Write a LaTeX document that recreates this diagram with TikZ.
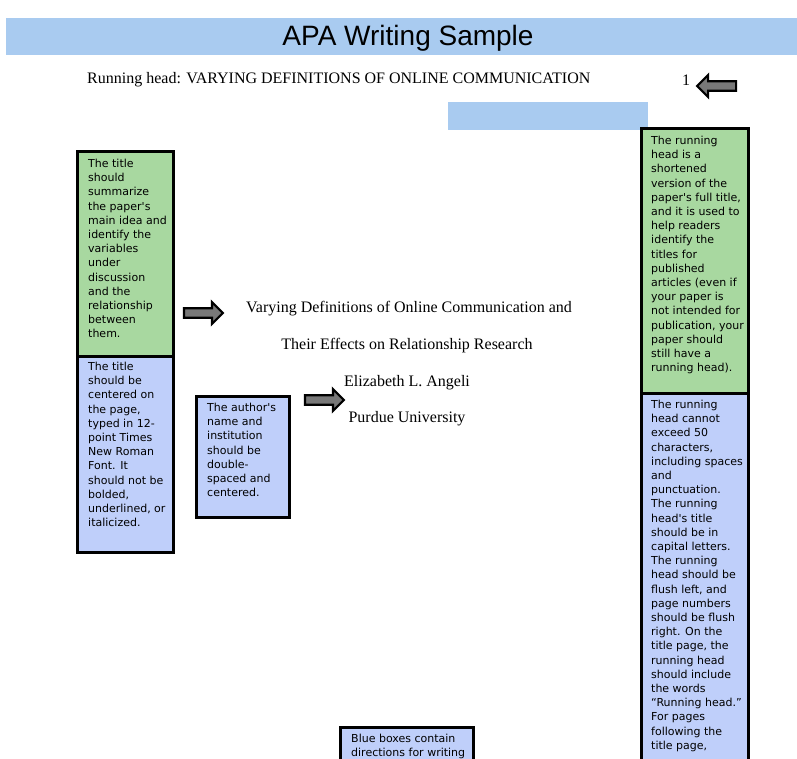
\documentclass[tikz,border=0pt]{standalone}
\usepackage{fontspec}
\setmainfont{Liberation Serif}
\newfontfamily\notefont{DejaVu Sans}
\newfontfamily\headfont{Liberation Sans}
\usetikzlibrary{shapes.arrows}
\definecolor{bannerblue}{RGB}{169,203,240}
\definecolor{notegreen}{RGB}{168,216,160}
\definecolor{noteblue}{RGB}{191,207,250}
\definecolor{arrowgray}{RGB}{120,120,120}
\tikzset{
  notebox/.style={draw=black,line width=3pt,inner sep=0pt},
  notetext/.style={anchor=north west,inner sep=0pt,align=left,
    font=\notefont\fontsize{11}{14.2}\selectfont},
  blockarrow/.style={single arrow,draw=black,fill=arrowgray,line width=2.2pt,
    minimum height=39pt,minimum width=22pt,single arrow head extend=4pt,inner sep=2pt},
  papertext/.style={inner sep=0pt,font=\fontsize{16}{18}\selectfont}
}
\begin{document}
\begin{tikzpicture}[x=1pt,y=-1pt]
\useasboundingbox (0,0) rectangle (797,759);
\clip (0,0) rectangle (797,759);

% banner
\fill[bannerblue] (6,18) rectangle (797,55);
\node[font=\headfont\fontsize{28}{30}\selectfont] (banner) at (408,38) {APA Writing Sample};

% running head
\node[papertext,anchor=west] (runhead) at (87,80) {Running head: VARYING DEFINITIONS OF ONLINE COMMUNICATION};
\node[papertext] (pagenum) at (686,80) {1};
\node[blockarrow,shape border rotate=180] (arrowpage) at (719,86) {};
\fill[bannerblue] (448,102) rectangle (648,130);

% left notes
\draw[notebox,fill=notegreen] (77,152) rectangle (173,356);
\node[notetext] (titlenote) at (88,159) {The title\\should\\summarize\\the paper's\\main idea and\\identify the\\variables\\under\\discussion\\and the\\relationship\\between\\them.};
\draw[notebox,fill=noteblue] (77,356) rectangle (173,552);
\node[notetext] (centernote) at (88,362) {The title\\should be\\centered on\\the page,\\typed in 12-\\point Times\\New Roman\\Font. It\\should not be\\bolded,\\underlined, or\\italicized.};
\node[blockarrow] (arrowtitle) at (201,313) {};

% title page text
\node[papertext] (title1) at (409,309) {Varying Definitions of Online Communication and};
\node[papertext] (title2) at (407,346) {Their Effects on Relationship Research};
\node[papertext] (author) at (407,383) {Elizabeth L. Angeli};
\node[papertext] (school) at (407,419) {Purdue University};

% author note
\draw[notebox,fill=noteblue] (196,396) rectangle (289,517);
\node[notetext] (authornote) at (207,403) {The author's\\name and\\institution\\should be\\double-\\spaced and\\centered.};
\node[blockarrow] (arrowauthor) at (322,400) {};

% right notes
\draw[notebox,fill=notegreen] (641,129) rectangle (748,393);
\node[notetext] (headnote) at (651,136) {The running\\head is a\\shortened\\version of the\\paper's full title,\\and it is used to\\help readers\\identify the\\titles for\\published\\articles (even if\\your paper is\\not intended for\\publication, your\\paper should\\still have a\\running head).};
\draw[notebox,fill=noteblue] (641,393) rectangle (748,770);
\node[notetext] (rulesnote) at (651,400) {The running\\head cannot\\exceed 50\\characters,\\including spaces\\and\\punctuation.\\The running\\head's title\\should be in\\capital letters.\\The running\\head should be\\flush left, and\\page numbers\\should be flush\\right. On the\\title page, the\\running head\\should include\\the words\\“Running head.”\\For pages\\following the\\title page,};

% bottom note
\draw[notebox,fill=noteblue] (340,727) rectangle (473,780);
\node[notetext] (keynote) at (351,734) {Blue boxes contain\\directions for writing};
\end{tikzpicture}
\end{document}
